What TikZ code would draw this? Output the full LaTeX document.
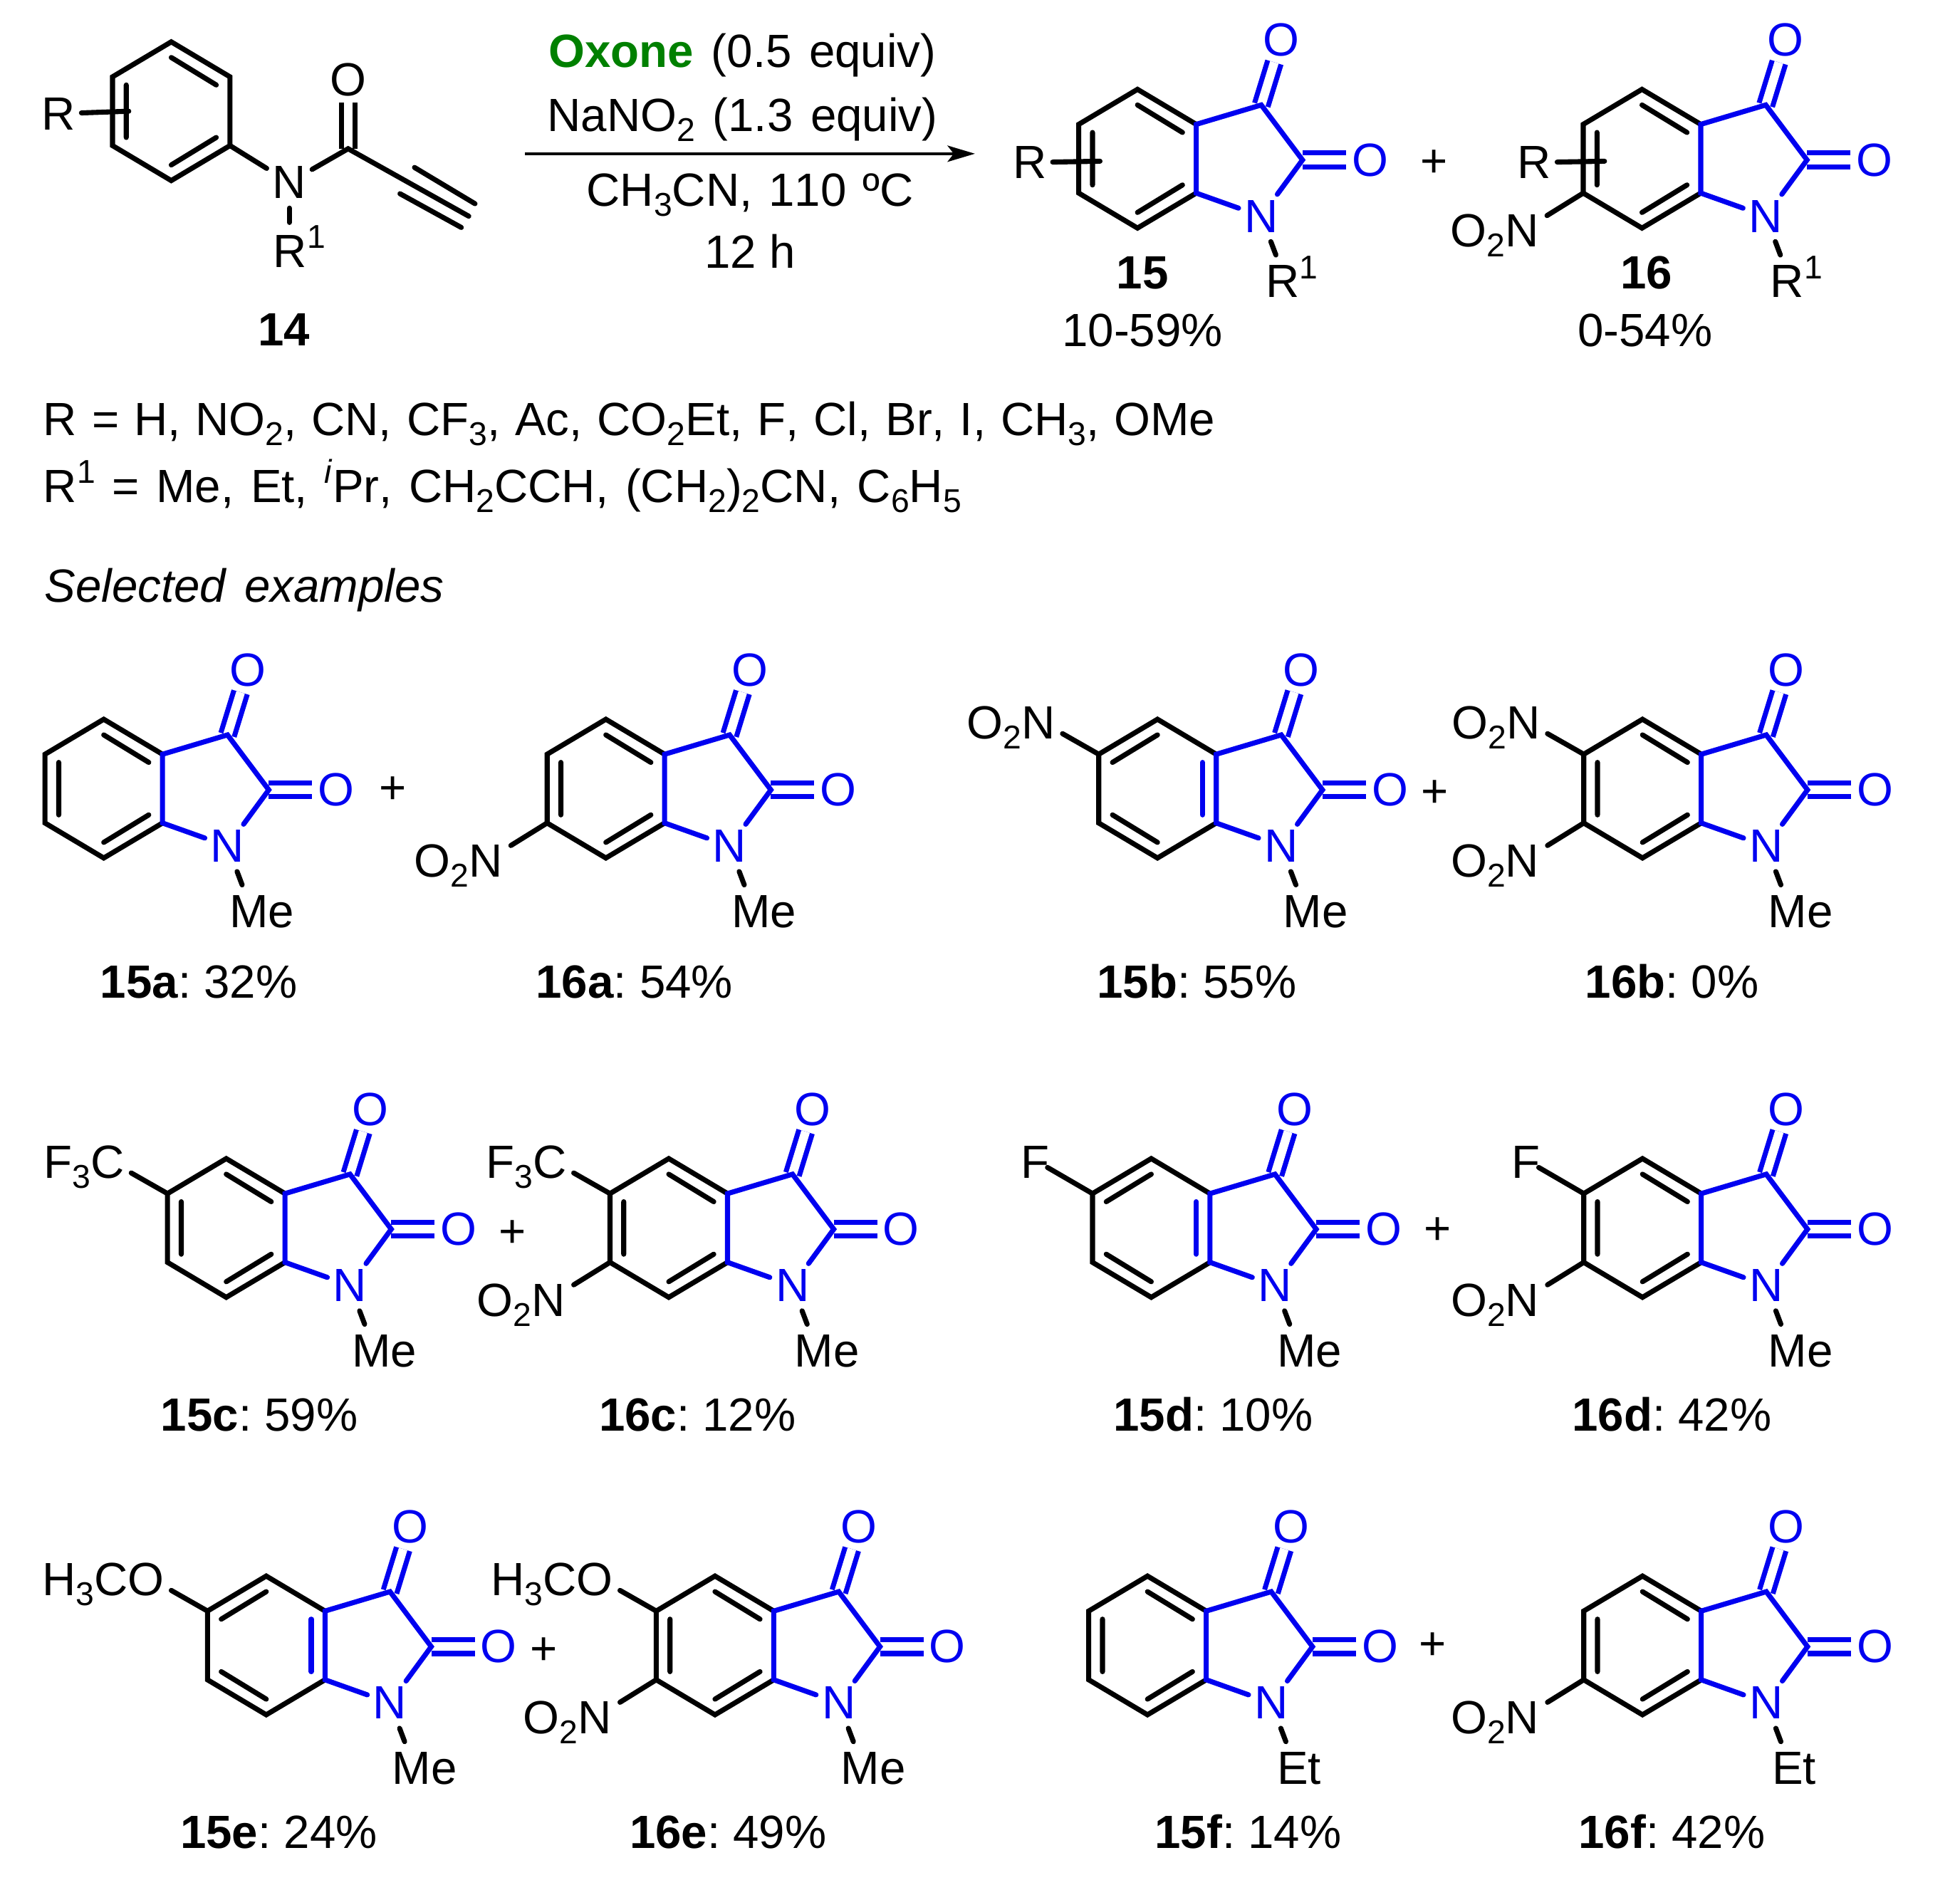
\documentclass[tikz,border=0pt]{standalone}
\usepackage{fontspec}
\setmainfont[Kerning=Off]{Liberation Sans}
\usetikzlibrary{arrows.meta}
\definecolor{ringblue}{RGB}{0,0,240}
\definecolor{oxgreen}{RGB}{0,128,0}
\newcommand{\chemsize}{\fontsize{10.6}{13}\selectfont\frenchspacing}
\newcommand{\lowidx}[1]{\raisebox{-2.3pt}{\fontsize{7.5}{9}\selectfont #1}}
\newcommand{\highidx}[1]{\raisebox{4.3pt}{\fontsize{7.5}{9}\selectfont #1}}
\newcommand{\wordgap}[1]{\spaceskip=#1\relax}
\newcommand{\nitro}{O\lowidx{2}N}
\tikzset{
    bond/.style={line width=1.15pt, line cap=round, line join=miter, black},
    bluebond/.style={bond, ringblue},
    dblbond/.style={line width=1.15pt, double, double distance=2pt, line cap=butt},
    atom/.style={inner sep=.4mm},
    blueatom/.style={atom, text=ringblue},
    txt/.style={inner sep=0pt, anchor=base},
    txtleft/.style={inner sep=0pt, anchor=base west},
    txtright/.style={inner sep=0pt, anchor=base east}
}
% inner lines of the six-membered ring
\newcommand{\bondsA}{
    \draw[bond] (i1) -- (i2) (i3) -- (i4) (i5) -- (i6);
}
\newcommand{\bondsB}{
    \draw[bond] (i6) -- (i1) (i4) -- (i5);
    \draw[bluebond] (i2) -- (i3);
}
% substituents on the ring
\newcommand{\subtop}[2][-76,-44]{
    \coordinate (stend) at (#1);
    \node[txtright] (stlabel) at (-81,-40) {#2};
    \draw[bond] (ul) -- (stend);
}
\newcommand{\subbot}[1]{
    \coordinate (sbend) at (-76,45.5);
    \node[txtright] (sblabel) at (-82,70.5) {#1};
    \draw[bond] (ll) -- (sbend);
}
\newcommand{\subR}{
    \node[atom] (rlabel) at (-86,3) {R};
    \coordinate (rend) at (-30,2);
    \draw[bond] (rlabel) -- (rend);
}
% #1 name, #2 x, #3 y, #4 extras, #5 x of the group on N, #6 that group
\newcommand{\isatin}[6]{
    \begin{scope}[shift={(#2,#3)}, name prefix=#1-]
    \coordinate (top) at (0,-55.5);
    \coordinate (ur) at (47,-27.5);
    \coordinate (lr) at (47,27.5);
    \coordinate (bot) at (0,55.5);
    \coordinate (ll) at (-47,27.5);
    \coordinate (ul) at (-47,-27.5);
    \coordinate (i1) at (0,-43);
    \coordinate (i2) at (36,-21);
    \coordinate (i3) at (36,21);
    \coordinate (i4) at (0,43);
    \coordinate (i5) at (-36,21);
    \coordinate (i6) at (-36,-21);
    \coordinate (c3) at (99,-43);
    \coordinate (c2) at (132,1);
    \coordinate (nend) at (110.7,77);
    \node[blueatom] (n) at (99,46) {N};
    \node[blueatom] (otop) at (115,-95) {O};
    \node[blueatom] (oright) at (186,1) {O};
    \node[txtleft] (group) at (#5,111) {#6};
    \draw[ringblue, dblbond] (c3) -- (otop);
    \draw[ringblue, dblbond] (c2) -- (oright);
    \draw[bond] (ur) -- (top) -- (ul) -- (ll) -- (bot) -- (lr);
    \draw[bluebond] (n) -- (lr) -- (ur) -- (c3) -- (c2) -- (n);
    \draw[bond, shorten <=.03cm] (n) -- (nend);
    #4
    \end{scope}
}
\begin{document}
\begin{tikzpicture}[x=.01cm, y=-.01cm,
    every node/.style={font=\chemsize}]
    \useasboundingbox (0,0) rectangle (1568,1504);

    % starting material
    \begin{scope}[shift={(137,89)}, name prefix=sm-]
    \coordinate (top) at (0,-55.5);
    \coordinate (ur) at (47,-27.5);
    \coordinate (lr) at (47,27.5);
    \coordinate (bot) at (0,55.5);
    \coordinate (ll) at (-47,27.5);
    \coordinate (ul) at (-47,-27.5);
    \coordinate (i1) at (0,-43);
    \coordinate (i2) at (36,-21);
    \coordinate (i3) at (36,21);
    \coordinate (i4) at (0,43);
    \coordinate (i5) at (-36,21);
    \coordinate (i6) at (-36,-21);
    \draw[bond] (ur) -- (top) -- (ul) -- (ll) -- (bot) -- (lr) -- cycle;
    \bondsA
    \node[atom] (rlabel) at (-90,2) {R};
    \coordinate (rend) at (-34,0);
    \draw[bond] (rlabel) -- (rend);
    \coordinate (co) at (141.5,30);
    \coordinate (cc) at (238,84);
    \coordinate (cca) at (194.6,45);
    \coordinate (ccb) at (243,74);
    \coordinate (ccc) at (183,66);
    \coordinate (ccd) at (232,93);
    \coordinate (nend) at (94.5,89);
    \node[atom] (n) at (94.5,57) {N};
    \node[atom] (o) at (141.5,-25) {O};
    \node[txtleft] (r1) at (81,124.7) {R\highidx{1}};
    \draw[black, dblbond] (co) -- (o);
    \draw[bond] (lr) -- (n) -- (co) -- (cc);
    \draw[bond] (cca) -- (ccb);
    \draw[bond] (ccc) -- (ccd);
    \draw[bond, shorten <=.03cm] (n) -- (nend);
    \end{scope}
    \node[txt] (sm) at (227,276.5) {\textbf{14}};

    % conditions
    \node[txt] (cond1) at (594,54) {\wordgap{3.98pt}\textcolor{oxgreen}{\textbf{Oxone}} (0.5 equiv)};
    \node[txt] (cond2) at (594,105) {\wordgap{3.98pt}NaNO\lowidx{2} (1.3 equiv)};
    \node[txt] (cond3) at (600,164.7) {\wordgap{3.69pt}CH\lowidx{3}CN, 110 ºC};
    \node[txt] (cond4) at (600,214.7) {12 h};
    \coordinate (arrowstart) at (420,123);
    \coordinate (arrowend) at (780,123);
    \draw[line width=.6pt, -{Stealth[length=.22cm, width=.13cm, inset=.05cm]}]
        (arrowstart) -- (arrowend);

    % products
    \isatin{p15}{910}{127}{\bondsA\subR}{102}{R\highidx{1}}
    \isatin{p16}{1313.6}{127}{\bondsA\subR\subbot{\nitro}}{102}{R\highidx{1}}
    \node[atom] (plus0) at (1147,131) {+};
    \node[txt] (p15name) at (914,231) {\textbf{15}};
    \node[txt] (p16name) at (1317,231) {\textbf{16}};
    \node[txt] (p15yield) at (914,277) {10-59\%};
    \node[txt] (p16yield) at (1316,277) {0-54\%};

    % scope of the reaction
    \node[txtleft] (rlist) at (34,348.5) {\wordgap{3.39pt}R = H, NO\lowidx{2}, CN, CF\lowidx{3}, Ac, CO\lowidx{2}Et, F, Cl, Br, I, CH\lowidx{3}, OMe};
    \node[txtleft] (r1list) at (34,402) {\wordgap{3.83pt}R\highidx{1} = Me, Et, \highidx{\textit{i}}Pr, CH\lowidx{2}CCH, (CH\lowidx{2})\lowidx{2}CN, C\lowidx{6}H\lowidx{5}};
    \node[txtleft] (selected) at (35,482) {\wordgap{4.27pt}\textit{Selected examples}};

    % first row
    \isatin{a15}{83}{631}{\bondsA}{100}{Me}
    \isatin{a16}{484.7}{631}{\bondsA\subbot{\nitro}}{100}{Me}
    \isatin{b15}{926}{631}{\bondsB\subtop{\nitro}}{100}{Me}
    \isatin{b16}{1314}{631}{\bondsA\subtop{\nitro}\subbot{\nitro}}{100}{Me}
    \node[atom] (plusa) at (314,632) {+};
    \node[atom] (plusb) at (1148,635) {+};
    \node[txt] (a15name) at (159,798.7) {\textbf{15a}: 32\%};
    \node[txt] (a16name) at (507.5,798.7) {\textbf{16a}: 54\%};
    \node[txt] (b15name) at (957.5,798.7) {\textbf{15b}: 55\%};
    \node[txt] (b16name) at (1337.5,798.7) {\textbf{16b}: 0\%};

    % second row
    \isatin{c15}{181}{982.5}{\bondsA\subtop{F\lowidx{3}C}}{100}{Me}
    \isatin{c16}{535}{982.5}{\bondsA\subtop{F\lowidx{3}C}\subbot{\nitro}}{100}{Me}
    \isatin{d15}{921}{982.5}{\bondsB\subtop[-83,-48.4]{F}}{100}{Me}
    \isatin{d16}{1314}{982.5}{\bondsA\subtop[-83,-48.4]{F}\subbot{\nitro}}{100}{Me}
    \node[atom] (plusc) at (410,987) {+};
    \node[atom] (plusd) at (1150,985) {+};
    \node[txt] (c15name) at (207.5,1145) {\textbf{15c}: 59\%};
    \node[txt] (c16name) at (558,1145) {\textbf{16c}: 12\%};
    \node[txt] (d15name) at (970.5,1145) {\textbf{15d}: 10\%};
    \node[txt] (d16name) at (1337.5,1145) {\textbf{16d}: 42\%};

    % third row
    \isatin{e15}{213}{1316.5}{\bondsB\subtop{H\lowidx{3}CO}}{100}{Me}
    \isatin{e16}{572}{1316.5}{\bondsA\subtop{H\lowidx{3}CO}\subbot{\nitro}}{100}{Me}
    \isatin{f15}{918}{1316.5}{\bondsA}{103}{Et}
    \isatin{f16}{1314}{1316.5}{\bondsA\subbot{\nitro}}{103}{Et}
    \node[atom] (pluse) at (435,1321) {+};
    \node[atom] (plusf) at (1146,1317) {+};
    \node[txt] (e15name) at (223,1479) {\textbf{15e}: 24\%};
    \node[txt] (e16name) at (582.5,1479) {\textbf{16e}: 49\%};
    \node[txt] (f15name) at (998.5,1479) {\textbf{15f}: 14\%};
    \node[txt] (f16name) at (1337.5,1479) {\textbf{16f}: 42\%};
\end{tikzpicture}
\end{document}
